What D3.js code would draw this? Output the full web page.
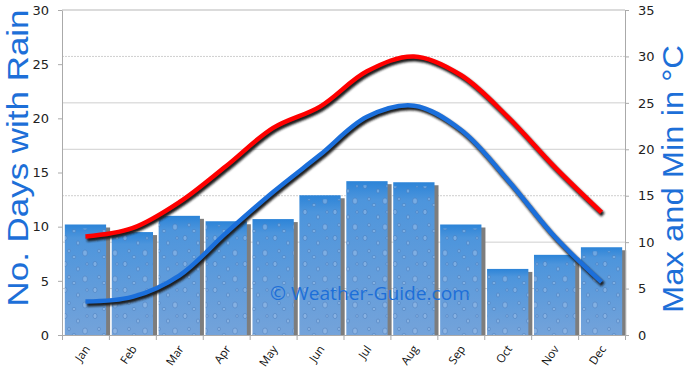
<!DOCTYPE html>
<html>
<head>
<meta charset="utf-8">
<script src="https://cdn.jsdelivr.net/npm/d3@7"></script>
<style>
  body { margin: 0; background: #fff; }
  svg { display: block; }
  .tick text { font-family: "DejaVu Sans", sans-serif; }
</style>
</head>
<body>
<svg id="chart" width="690" height="379"></svg>
<script>
var months = ["Jan", "Feb", "Mar", "Apr", "May", "Jun", "Jul", "Aug", "Sep", "Oct", "Nov", "Dec"];
var rainDays = [10.2, 9.5, 11.0, 10.5, 10.7, 12.9, 14.2, 14.1, 10.2, 6.1, 7.4, 8.1];
var maxTemp = [10.6, 11.5, 14.3, 18.2, 22.3, 24.6, 28.4, 30.0, 28.0, 23.5, 18.1, 13.2];
var minTemp = [3.6, 4.1, 6.4, 11.0, 15.4, 19.4, 23.5, 24.7, 22.1, 16.7, 10.6, 5.7];
var rainTicks = [0, 5, 10, 15, 20, 25, 30];
var tempTicks = [0, 5, 10, 15, 20, 25, 30, 35];

var svg = d3.select("#chart");
var plotLeft = 62, plotRight = 625, plotTop = 10, plotBottom = 335;
var titleBlue = "#1d6fd8";

var x = d3.scaleBand().domain(months).range([plotLeft, plotRight]).paddingInner(0.12).paddingOuter(0.06);
var xEdge = d3.scaleLinear().domain([0, 12]).range([plotLeft, plotRight]);
var yRain = d3.scaleLinear().domain([0, 30]).range([plotBottom, plotTop]);
var yTemp = d3.scaleLinear().domain([0, 35]).range([plotBottom, plotTop]);

var defs = svg.append("defs");

var grad = defs.append("linearGradient").attr("id", "barGrad")
    .attr("x1", 0).attr("y1", 0).attr("x2", 0).attr("y2", 1);
grad.append("stop").attr("offset", "0%").attr("stop-color", "#2c84d8");
grad.append("stop").attr("offset", "12%").attr("stop-color", "#4d95dc");
grad.append("stop").attr("offset", "100%").attr("stop-color", "#74a3da");

// little rain drops on the bars
var drops = defs.append("pattern").attr("id", "drops")
    .attr("patternUnits", "userSpaceOnUse").attr("width", 30).attr("height", 26);
[[5, 4, 2, 2.6], [18, 9, 1.6, 2], [25, 19, 2.4, 3], [9, 17, 1.4, 1.8], [14, 23, 1.8, 1.6], [27, 4, 1.2, 1.5]]
    .forEach(function (d) {
        drops.append("ellipse").attr("cx", d[0]).attr("cy", d[1]).attr("rx", d[2]).attr("ry", d[3])
            .attr("fill", "#a9c8ee").attr("fill-opacity", 0.45)
            .attr("stroke", "#3b6fb0").attr("stroke-opacity", 0.5).attr("stroke-width", 0.8);
    });

var blur = defs.append("filter").attr("id", "shadowBlur")
    .attr("x", "-5%").attr("y", "-5%").attr("width", "110%").attr("height", "110%");
blur.append("feGaussianBlur").attr("stdDeviation", 0.9);

// grid lines follow the right axis
svg.append("g").selectAll("line").data(tempTicks.slice(1)).enter().append("line")
    .attr("x1", plotLeft).attr("x2", plotRight)
    .attr("y1", function (d) { return yTemp(d); }).attr("y2", function (d) { return yTemp(d); })
    .attr("stroke", "#cfcfcf").attr("stroke-width", 1)
    .attr("stroke-dasharray", function (d) { return (d === 30 || d === 15) ? "2,1" : null; });

// bars
var bars = svg.append("g");
bars.selectAll(".shadow").data(rainDays).enter().append("rect")
    .attr("class", "shadow")
    .attr("x", function (d, i) { return x(months[i]) + 4; })
    .attr("y", function (d) { return yRain(d) + 3; })
    .attr("width", x.bandwidth())
    .attr("height", function (d) { return plotBottom - yRain(d) - 3; })
    .attr("fill", "#7d7d7d");
bars.selectAll(".bar").data(rainDays).enter().append("rect")
    .attr("class", "bar")
    .attr("x", function (d, i) { return x(months[i]); })
    .attr("y", function (d) { return yRain(d); })
    .attr("width", x.bandwidth())
    .attr("height", function (d) { return plotBottom - yRain(d); })
    .attr("fill", "url(#barGrad)");
bars.selectAll(".drop").data(rainDays).enter().append("rect")
    .attr("class", "drop")
    .attr("x", function (d, i) { return x(months[i]); })
    .attr("y", function (d) { return yRain(d) + 4; })
    .attr("width", x.bandwidth())
    .attr("height", function (d) { return plotBottom - yRain(d) - 4; })
    .attr("fill", "url(#drops)");

// axes
var axisColor = "#aaaaaa";
var gLeft = svg.append("g").attr("transform", "translate(" + plotLeft + ",0)")
    .call(d3.axisLeft(yRain).tickValues(rainTicks).tickSize(4).tickPadding(9));
var gRight = svg.append("g").attr("transform", "translate(" + plotRight + ",0)")
    .call(d3.axisRight(yTemp).tickValues(tempTicks).tickSize(4).tickPadding(9));
var gBottom = svg.append("g").attr("transform", "translate(0," + plotBottom + ")")
    .call(d3.axisBottom(xEdge).tickValues(d3.range(13)).tickSize(5).tickFormat(""));

[gLeft, gRight, gBottom].forEach(function (g) {
    g.select(".domain").attr("stroke", axisColor);
    g.selectAll(".tick line").attr("stroke", axisColor);
    g.selectAll(".tick text").attr("fill", "#222").attr("font-size", 13);
});

svg.append("line").attr("x1", plotLeft).attr("x2", plotRight).attr("y1", plotTop).attr("y2", plotTop)
    .attr("stroke", "#cfcfcf");

// month labels
svg.append("g").selectAll("text").data(months).enter().append("text")
    .attr("transform", function (d) {
        return "translate(" + (x(d) + x.bandwidth() / 2 + 5) + "," + (plotBottom + 14) + ") rotate(-55)";
    })
    .attr("text-anchor", "end")
    .attr("font-family", "'Open Sans', sans-serif")
    .attr("font-size", 11.5)
    .attr("fill", "#111")
    .text(function (d) { return d; });

// temperature lines
var line = d3.line()
    .x(function (d, i) { return x(months[i]) + x.bandwidth() / 2; })
    .y(function (d) { return yTemp(d); })
    .curve(d3.curveCatmullRom.alpha(0.5));

[[maxTemp, "#ff0000"], [minTemp, "#1b6fdb"]].forEach(function (s) {
    svg.append("path").datum(s[0])
        .attr("d", line)
        .attr("transform", "translate(1.5,2.5)")
        .attr("fill", "none")
        .attr("stroke", "#1e1e1e")
        .attr("stroke-width", 5)
        .attr("filter", "url(#shadowBlur)");
    svg.append("path").datum(s[0])
        .attr("d", line)
        .attr("fill", "none")
        .attr("stroke", s[1])
        .attr("stroke-width", 4.5);
});

// watermark
svg.append("text")
    .attr("x", 270).attr("y", 300)
    .attr("textLength", 200).attr("lengthAdjust", "spacingAndGlyphs")
    .attr("font-family", "'Open Sans', sans-serif")
    .attr("font-size", 18)
    .attr("fill", titleBlue)
    .text("\u00a9 Weather-Guide.com");

// axis titles
svg.append("text")
    .attr("transform", "translate(28,158) rotate(-90)")
    .attr("text-anchor", "middle")
    .attr("textLength", 297).attr("lengthAdjust", "spacingAndGlyphs")
    .attr("font-family", "'Liberation Sans', sans-serif")
    .attr("font-size", 30)
    .attr("fill", titleBlue)
    .text("No. Days with Rain");

svg.append("text")
    .attr("transform", "translate(683,179) rotate(-90)")
    .attr("text-anchor", "middle")
    .attr("textLength", 268).attr("lengthAdjust", "spacingAndGlyphs")
    .attr("font-family", "'Liberation Sans', sans-serif")
    .attr("font-size", 30)
    .attr("fill", titleBlue)
    .text("Max and Min in \u00b0C");
</script>
</body>
</html>
